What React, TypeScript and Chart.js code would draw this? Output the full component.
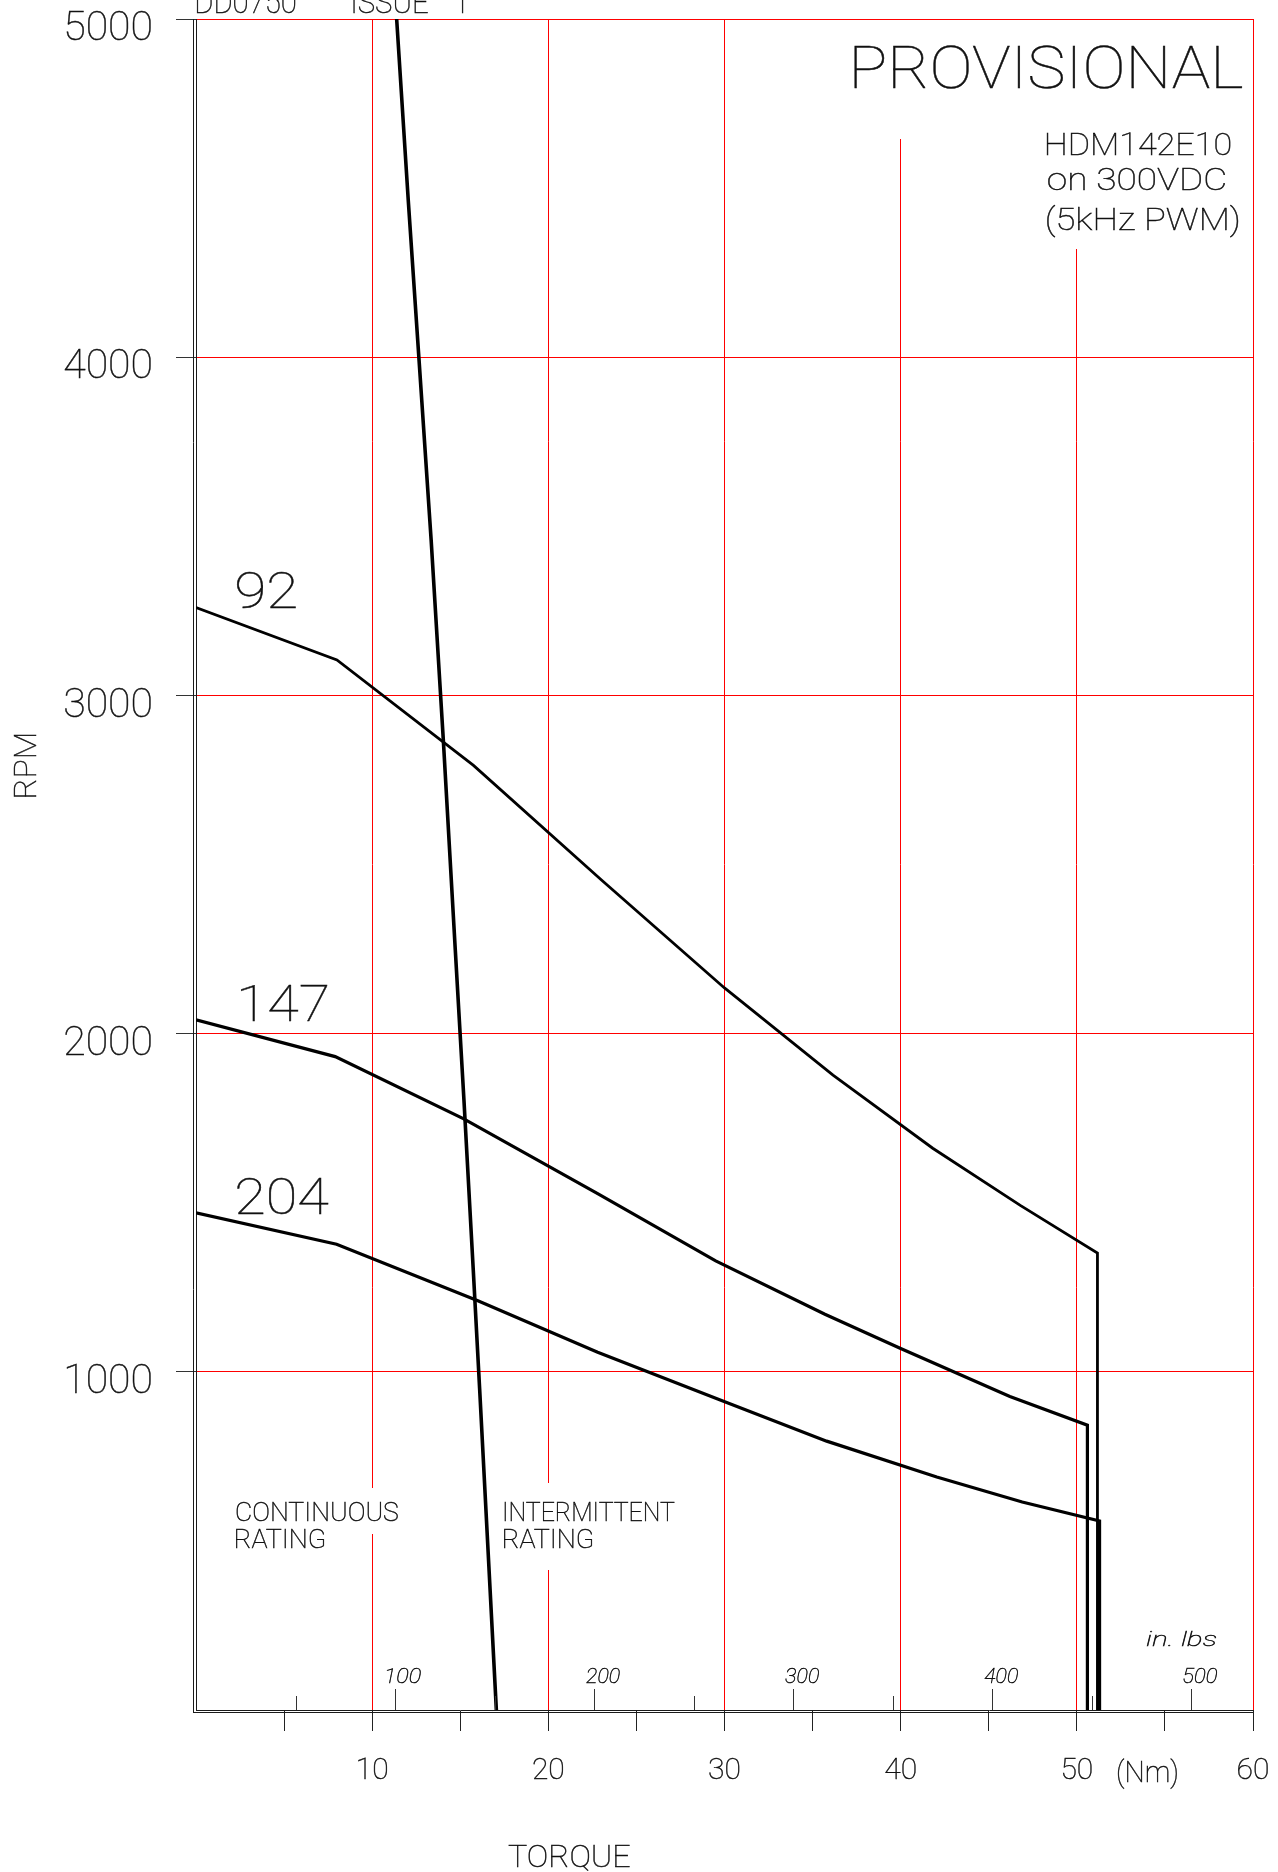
import React, { useEffect, useRef } from 'react';
import { Chart, registerables } from 'chart.js';

Chart.register(...registerables);

const CANVAS_W = 1278;
const CANVAS_H = 1872;

// ---------- data (torque in Nm, speed in RPM) ----------
const torque92 = [0, 8.0, 15.75, 23.0, 30.0, 36.16, 41.82, 46.79, 51.17, 51.17];
const rpm92 = [3260, 3105, 2793, 2455, 2135, 1877, 1661, 1492, 1351, 0];

const torque147 = [0, 7.9, 15.2, 22.8, 29.5, 35.7, 40.0, 46.2, 50.6, 50.6];
const rpm147 = [2041, 1932, 1748, 1527, 1328, 1170, 1069, 927, 842, 0];

const torque204 = [0, 7.98, 16.0, 22.8, 30.05, 35.8, 42.05, 46.9, 51.29, 51.29];
const rpm204 = [1470, 1377, 1210, 1058, 911, 795, 689, 615, 559, 0];

// rating boundary (continuous / intermittent)
const torqueLimit = [11.39, 12.05, 12.65, 13.35, 14.04, 14.72, 15.21, 15.74, 16.1, 17.05];
const rpmLimit = [5000, 4463, 4000, 3458, 2867, 2246, 1803, 1300, 950, 0];

const curveNames = ['92', '147', '204'];
const curveLabelTorque = 2.3;

const xMin = 0;
const xMax = 60;
const xStep = 5;
const yMin = 0;
const yMax = 5000;
const yStep = 1000;

const inLbTicks = [50, 100, 150, 200, 250, 300, 350, 400, 450, 500];
const NM_PER_INLB = 0.1129848;

// ---------- styles ----------
const RED = 'rgb(255,0,0)';
const AXIS = '#1a1a1a';
const FONT_FAMILY = "Roboto, 'DejaVu Sans', sans-serif";
const TEXT_COLOR = '#111';
const TEXT_WEIGHT = 100;
const TEXT_STROKE = 0.45;
const TRANSPARENT = 'rgba(0,0,0,0)';
const curveLabelWidths = [59, 87, 92];

const pts = (xs: number[], ys: number[]) => xs.map((x, i) => ({ x, y: ys[i] }));

function drawLabel(
  ctx: CanvasRenderingContext2D,
  text: string,
  x: number,
  baseline: number,
  size: number,
  width?: number,
  align: 'left' | 'center' = 'left',
  italic = false
) {
  ctx.save();
  ctx.font = `${italic ? 'italic ' : ''}${TEXT_WEIGHT} ${size}px ${FONT_FAMILY}`;
  ctx.fillStyle = TEXT_COLOR;
  ctx.strokeStyle = TEXT_COLOR;
  ctx.lineWidth = TEXT_STROKE;
  ctx.textAlign = 'left';
  ctx.textBaseline = 'alphabetic';
  const m = ctx.measureText(text);
  const vis = m.actualBoundingBoxLeft + m.actualBoundingBoxRight;
  const sx = width ? width / vis : 1;
  const left = align === 'center' ? x - (vis * sx) / 2 : x;
  ctx.translate(left + m.actualBoundingBoxLeft * sx, baseline);
  ctx.scale(sx, 1);
  ctx.fillText(text, 0, 0);
  ctx.strokeText(text, 0, 0);
  ctx.restore();
}

const annotationPlugin = {
  id: 'cadAnnotations',
  beforeDatasetsDraw(chart: any) {
    const ctx: CanvasRenderingContext2D = chart.ctx;
    ctx.save();
    ctx.fillStyle = '#ffffff';
    // white masks behind the text blocks (grid lines are interrupted there)
    ctx.fillRect(228, 1488, 176, 46); // CONTINUOUS
    ctx.fillRect(498, 1483, 184, 87); // INTERMITTENT RATING
    ctx.fillRect(845, 20, 404, 119); // PROVISIONAL
    ctx.fillRect(1040, 20, 209, 229); // HDM142E10 block
    ctx.restore();
  },
  afterDraw(chart: any) {
    const ctx: CanvasRenderingContext2D = chart.ctx;
    const xs = chart.scales.x;
    const ys = chart.scales.y;
    const area = chart.chartArea;

    // second line of the double axes
    ctx.save();
    ctx.strokeStyle = AXIS;
    ctx.lineWidth = 1;
    ctx.beginPath();
    ctx.moveTo(area.left - 2.5, area.top);
    ctx.lineTo(area.left - 2.5, area.bottom + 3);
    ctx.moveTo(area.left - 3, area.bottom + 2.5);
    ctx.lineTo(area.right, area.bottom + 2.5);
    ctx.stroke();

    // in.lbs secondary scale (ticks inside the plot)
    ctx.strokeStyle = '#333';
    ctx.beginPath();
    inLbTicks.forEach((v) => {
      const px = Math.round(xs.getPixelForValue(v * NM_PER_INLB)) + 0.5;
      const len = v % 100 === 0 ? 21 : 14;
      ctx.moveTo(px, area.bottom);
      ctx.lineTo(px, area.bottom - len);
    });
    ctx.stroke();
    ctx.restore();

    inLbTicks.forEach((v) => {
      if (v % 100 !== 0) return;
      const px = xs.getPixelForValue(v * NM_PER_INLB);
      drawLabel(ctx, String(v), px + 9, area.bottom - 27, 21, 34, 'center', true);
    });
    drawLabel(ctx, 'in. lbs', 1146, area.bottom - 64, 20, 70, 'left', true);

    // x unit
    drawLabel(ctx, '(Nm)', 1118, 1782, 30, 59);

    // axis titles
    ctx.save();
    ctx.translate(36, 766);
    ctx.rotate(-Math.PI / 2);
    drawLabel(ctx, 'RPM', 0, 0, 31, 63, 'center');
    ctx.restore();
    drawLabel(ctx, 'TORQUE', 508, 1867, 31, 122);

    // header texts
    drawLabel(ctx, 'DD0750', 197, 12.7, 31, 99);
    drawLabel(ctx, 'ISSUE', 353, 12.7, 31, 75);
    drawLabel(ctx, '1', 455, 12.7, 31);
    drawLabel(ctx, 'PROVISIONAL', 854, 88, 59, 388);
    drawLabel(ctx, 'HDM142E10', 1047, 155, 31, 184);
    drawLabel(ctx, 'on 300VDC', 1048, 190, 31, 178);
    drawLabel(ctx, '(5kHz PWM)', 1047, 230, 31, 191);

    // rating labels
    drawLabel(ctx, 'CONTINUOUS', 236, 1521, 25, 162);
    drawLabel(ctx, 'RATING', 236, 1548, 25, 88);
    drawLabel(ctx, 'INTERMITTENT', 504, 1521, 25, 171);
    drawLabel(ctx, 'RATING', 504, 1548, 25, 88);

    // curve labels (winding constants)
    const starts = [rpm92[0], rpm147[0], rpm204[0]];
    curveNames.forEach((name, i) => {
      const px = xs.getPixelForValue(curveLabelTorque);
      const py = ys.getPixelForValue(starts[i]) + 1;
      drawLabel(ctx, name, px + (i === 1 ? 4 : 0), py, 50, curveLabelWidths[i]);
    });
  },
};

export default function App() {
  const canvasRef = useRef<HTMLCanvasElement | null>(null);

  useEffect(() => {
    const canvas = canvasRef.current;
    if (!canvas) return;
    const tickFont = (size: number) => ({ family: FONT_FAMILY, size, weight: TEXT_WEIGHT as any, lineHeight: 1.2 });
    const lineDs = (label: string, xsArr: number[], ysArr: number[], width: number) => ({
      label,
      data: pts(xsArr, ysArr),
      borderColor: '#000',
      backgroundColor: '#000',
      borderWidth: width,
      pointRadius: 0,
      fill: false,
      tension: 0,
      borderJoinStyle: 'miter' as const,
    });

    const chart = new Chart(canvas, {
      type: 'line',
      data: {
        datasets: [
          lineDs(curveNames[0], torque92, rpm92, 2.8),
          lineDs(curveNames[1], torque147, rpm147, 3.2),
          lineDs(curveNames[2], torque204, rpm204, 3.2),
          lineDs('limit', torqueLimit, rpmLimit, 3.6),
        ],
      },
      options: {
        responsive: false,
        maintainAspectRatio: false,
        animation: false,
        devicePixelRatio: 1,
        layout: { padding: { top: 19, right: 25, left: 0, bottom: 0 } },
        plugins: { legend: { display: false }, tooltip: { enabled: false }, title: { display: false } },
        scales: {
          x: {
            type: 'linear',
            min: xMin,
            max: xMax,
            ticks: {
              stepSize: xStep,
              autoSkip: false,
              maxRotation: 0,
              font: tickFont(30),
              color: TEXT_COLOR,
              textStrokeColor: TEXT_COLOR,
              textStrokeWidth: TEXT_STROKE,
              padding: 22,
              callback: (v: any) => (Number(v) % 10 === 0 && Number(v) !== 0 ? String(v) : ''),
            },
            grid: {
              color: (c: any) => {
                const v = c.tick ? c.tick.value : NaN;
                return v % 10 === 0 && v !== 0 ? RED : TRANSPARENT;
              },
              tickColor: (c: any) => (c.tick && c.tick.value === 0 ? TRANSPARENT : '#222'),
              tickLength: 21,
              lineWidth: 1,
            },
            border: { display: true, color: AXIS, width: 1 },
            afterFit: (s: any) => {
              s.height = CANVAS_H - 1710;
              s.paddingLeft = 0;
              s.paddingRight = 0;
            },
          },
          y: {
            type: 'linear',
            min: yMin,
            max: yMax,
            ticks: {
              stepSize: yStep,
              autoSkip: false,
              font: tickFont(41),
              color: TEXT_COLOR,
              textStrokeColor: TEXT_COLOR,
              textStrokeWidth: TEXT_STROKE,
              padding: 23,
              labelOffset: 11,
              callback: (v: any) => (Number(v) === 0 ? '' : String(v)),
            },
            grid: {
              color: (c: any) => (c.tick && c.tick.value === 0 ? TRANSPARENT : RED),
              tickColor: (c: any) => (c.tick && c.tick.value === 0 ? TRANSPARENT : '#333'),
              tickLength: 20,
              lineWidth: 1,
            },
            border: { display: true, color: AXIS, width: 1 },
            afterFit: (s: any) => {
              s.width = 196;
              s.paddingTop = 0;
              s.paddingBottom = 0;
            },
          },
        },
      } as any,
      plugins: [annotationPlugin],
    });
    return () => chart.destroy();
  }, []);

  return (
    <div style={{ position: 'absolute', left: 0, top: 0, width: CANVAS_W, height: CANVAS_H, background: '#fff' }}>
      <canvas
        ref={canvasRef}
        width={CANVAS_W}
        height={CANVAS_H}
        style={{ display: 'block', width: CANVAS_W, height: CANVAS_H }}
      />
    </div>
  );
}
